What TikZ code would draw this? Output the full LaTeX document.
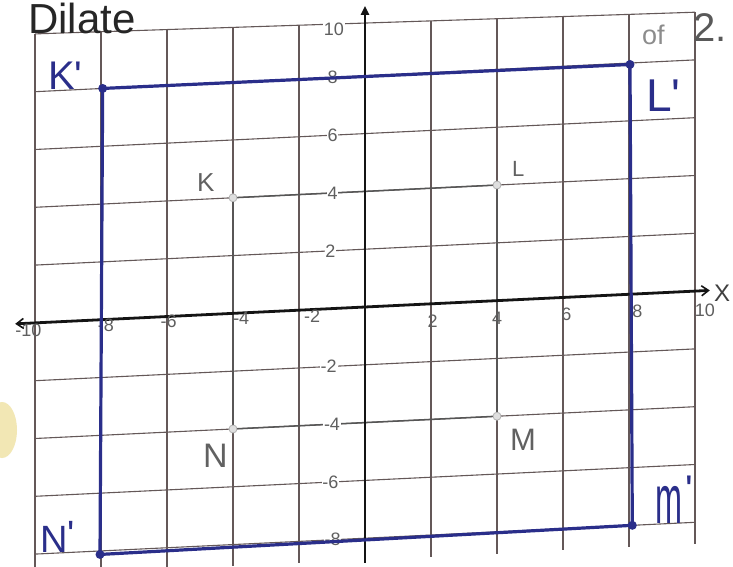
\documentclass[tikz,border=0pt]{standalone}
\usepackage{fontspec}
\setmainfont{Liberation Sans}
\newfontfamily\hand{Liberation Sans}
\usetikzlibrary{arrows.meta}
\definecolor{gridc}{RGB}{100,88,88}
\definecolor{pen}{RGB}{42,46,138}
\definecolor{pencil}{RGB}{95,95,95}
\definecolor{thumb}{RGB}{242,231,180}
\tikzset{
  gridline/.style={draw=gridc, line width=1.1pt},
  axisline/.style={draw=black!92, line width=2.8pt},
  traced/.style={draw=pencil!90!black, line width=1.5pt},
  kpt/.style={circle, draw=gray!60, fill=gray!25, line width=0.8pt, inner sep=0pt, minimum size=8pt},
  bdot/.style={circle, fill=pen, inner sep=0pt, minimum size=9pt},
  blueline/.style={draw=pen, line width=3.2pt, line join=round},
  ticklab/.style={text=pencil, font=\hand\fontsize{18}{18}\selectfont, inner sep=0.8pt},
  ylab/.style={ticklab, fill=white},
  graylab/.style={text=black!62, inner sep=0pt, anchor=base west},
  bluelab/.style={text=pen, inner sep=0pt, anchor=base west},
}
\begin{document}
\begin{tikzpicture}[x=1pt,y=1pt]
\useasboundingbox (0,0) rectangle (733,566);
\fill[white] (0,0) rectangle (733,566);
\fill[thumb] (2,136) ellipse (15 and 28);

\begin{scope}[shift={(365pt,259pt)}, x={(33pt,1.59pt)}, y={(0pt,28.9pt)}]
  % grid
  \foreach \u in {-10,-8,...,10}
    \draw[gridline] (\u,{10-0.0175*(\u+10)}) -- (\u,-8.75);
  \foreach \v in {-8,-6,...,8}
    \draw[gridline] (-10,\v) -- (10,\v);
  \draw[gridline] (-10,10) -- (10,9.65);

  % original square KLMN
  \node[kpt] (K) at (-4,4) {};
  \node[kpt] (L) at (4,4) {};
  \node[kpt] (M) at (4,-4) {};
  \node[kpt] (N) at (-4,-4) {};
  \draw[traced] (K) -- (L) -- (M) -- (N) -- (K);

  % axes
  \coordinate (xl) at (-10.6,0);
  \coordinate (xr) at (10.45,0);
  \coordinate (yb) at (0,-8.85);
  \coordinate (yt) at (0,10.42);
  \draw[axisline, {Straight Barb[length=7pt,width=10pt,line width=1.6pt]}-{Straight Barb[length=7pt,width=10pt,line width=1.6pt]}] (xl) -- (xr);
  \draw[axisline, -{Triangle[length=9pt,width=8pt]}] (yb) -- (yt);

  % x tick labels
  \node[ticklab] (xa) at (-10.2,-0.25) {-10};
  \node[ticklab] (xb) at (-7.85,-0.2) {-8};
  \node[ticklab] (xc) at (-5.95,-0.18) {-6};
  \node[ticklab] (xd) at (-3.75,-0.2) {-4};
  \node[ticklab] (xe) at (-1.6,-0.22) {-2};
  \node[ticklab] (xf) at (2.05,-0.62) {2};
  \node[ticklab] (xg) at (4.0,-0.6) {4};
  \node[ticklab] (xh) at (6.1,-0.6) {6};
  \node[ticklab] (xi) at (8.25,-0.62) {8};
  \node[ticklab] (xj) at (10.3,-0.68) {10};

  % y tick labels
  \node[ylab] (ya) at (-0.94,9.67) {10};
  \node[ylab] (yb8) at (-0.98,8) {8};
  \node[ylab] (yc) at (-0.98,6) {6};
  \node[ylab] (yd) at (-0.98,4) {4};
  \node[ylab] (ye) at (-1.05,2) {2};
  \node[ylab] (yf) at (-1.1,-2) {-2};
  \node[ylab] (yg) at (-1.0,-4) {-4};
  \node[ylab] (yh) at (-1.05,-6) {-6};
  \node[ylab] (yi) at (-0.98,-8) {-8};

  % dilated square K'L'M'N'
  \node[bdot] (Kp) at (-7.95,8) {};
  \node[bdot] (Lp) at (8.03,7.95) {};
  \node[bdot] (Mp) at (8.1,-8) {};
  \node[bdot] (Np) at (-8.03,-8.12) {};
  \draw[blueline] (Kp.center) -- (Lp.center) -- (Mp.center) -- (Np.center) -- cycle;
\end{scope}

% title text
\node[anchor=base west, inner sep=0pt, text=black!85, font=\hand\fontsize{42}{42}\selectfont] (title) at (28,532) {Dilate};
\node[anchor=base west, inner sep=0pt, text=black!45, font=\hand\fontsize{27}{27}\selectfont] (of) at (642,521) {of};
\node[anchor=base west, inner sep=0pt, text=black!65, font=\hand\fontsize{40}{40}\selectfont] (two) at (693,524) {2.};
\node[anchor=base west, inner sep=0pt, text=black!75, font=\hand\fontsize{24}{24}\selectfont] (xlab) at (714,265) {X};

% point labels
\node[graylab, font=\hand\fontsize{26}{26}\selectfont] (Klab) at (197,374) {K};
\node[graylab, font=\hand\fontsize{22}{22}\selectfont] (Llab) at (512,389) {L};
\node[graylab, font=\hand\fontsize{34}{34}\selectfont] (Nlab) at (203,99) {N};
\node[graylab, font=\hand\fontsize{31}{31}\selectfont] (Mlab) at (510,116) {M};

% image labels
\node[bluelab, font=\hand\fontsize{40}{40}\selectfont] (Kplab) at (48,476) {K'};
\node[bluelab, font=\hand\fontsize{46}{46}\selectfont] (Lplab) at (646,454) {L'};
\node[bluelab, font=\hand] (Mplab) at (655,43) {\scalebox{0.47}[1]{\fontsize{69}{69}\selectfont m}\hspace{3pt}\raisebox{20pt}{\fontsize{40}{40}\selectfont '}};
\node[bluelab, font=\hand\fontsize{38}{38}\selectfont] (Nplab) at (40,14) {N\raisebox{5pt}{'}};
\end{tikzpicture}
\end{document}
